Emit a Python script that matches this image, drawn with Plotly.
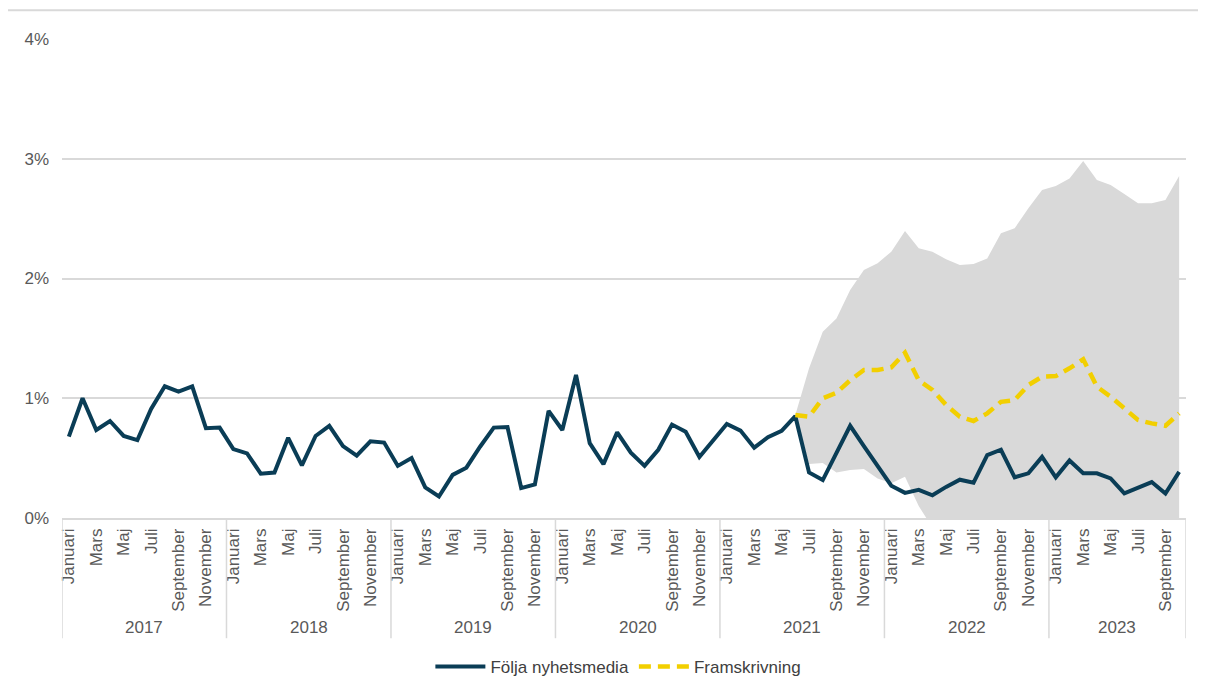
import plotly.graph_objects as go

# --- data ---
years = [2017, 2018, 2019, 2020, 2021, 2022, 2023]
month_names = ["Januari", "Februari", "Mars", "April", "Maj", "Juni", "Juli",
               "Augusti", "September", "Oktober", "November", "December"]

# Följa nyhetsmedia, Jan 2017 - Okt 2023 (percent)
news = [0.68, 1.00, 0.735, 0.81, 0.685, 0.65, 0.91, 1.10, 1.055, 1.10, 0.75, 0.755,
        0.575, 0.54, 0.37, 0.38, 0.67, 0.44, 0.685, 0.77, 0.60, 0.52, 0.64, 0.63,
        0.435, 0.50, 0.255, 0.18, 0.36, 0.42, 0.595, 0.755, 0.76, 0.25, 0.28, 0.895,
        0.735, 1.195, 0.625, 0.45, 0.715, 0.545, 0.435, 0.57, 0.78, 0.72, 0.51, 0.65,
        0.785, 0.73, 0.587, 0.675, 0.727, 0.85, 0.38, 0.317, 0.54, 0.77, 0.60, 0.43,
        0.27, 0.21, 0.235, 0.19, 0.26, 0.32, 0.295, 0.525, 0.57, 0.34, 0.373, 0.51,
        0.34, 0.48, 0.373, 0.373, 0.33, 0.205, 0.25, 0.30, 0.205, 0.385]

# Framskrivning, Jun 2021 - Okt 2023
forecast_start = 53
forecast = [0.86, 0.846, 1.00, 1.046, 1.15, 1.236, 1.236, 1.258, 1.38, 1.15,
            1.07, 0.944, 0.846, 0.81, 0.874, 0.97, 0.985, 1.11, 1.18, 1.185,
            1.25, 1.325, 1.096, 1.013, 0.916, 0.818, 0.79, 0.77, 0.874]
band_upper = [0.86, 1.25, 1.556, 1.667, 1.904, 2.07, 2.127, 2.224, 2.397, 2.252,
              2.224, 2.16, 2.113, 2.121, 2.168, 2.377, 2.419, 2.586, 2.739, 2.772,
              2.836, 2.981, 2.822, 2.78, 2.706, 2.628, 2.628, 2.655, 2.856]
band_lower = [0.86, 0.45, 0.46, 0.38, 0.40, 0.41, 0.33, 0.29, 0.345, 0.10,
              -0.08, -0.27, -0.42, -0.50, -0.42, -0.44, -0.45, -0.37, -0.38, -0.40,
              -0.34, -0.33, -0.63, -0.75, -0.87, -0.99, -1.05, -1.10, -1.10]

categories = [f"{m} {y}" for y in years for m in month_names][:len(news)]
fc_cats = categories[forecast_start:forecast_start + len(forecast)]

navy = "#0a3d56"
yellow = "#f2cf00"
grey_txt = "#595959"
grid = "#d9d9d9"
font_family = "Liberation Sans, Arial, sans-serif"

fig = go.Figure()

# uncertainty band
fig.add_trace(go.Scatter(x=fc_cats, y=band_lower, mode="lines", line=dict(width=0),
                         showlegend=False, hoverinfo="skip"))
fig.add_trace(go.Scatter(x=fc_cats, y=band_upper, mode="lines", line=dict(width=0),
                         fill="tonexty", fillcolor="#d9d9d9",
                         showlegend=False, hoverinfo="skip"))

fig.add_trace(go.Scatter(x=categories, y=news, mode="lines", name="Följa nyhetsmedia",
                         line=dict(color=navy, width=4)))
fig.add_trace(go.Scatter(x=fc_cats, y=forecast, mode="lines", name="Framskrivning",
                         line=dict(color=yellow, width=4.5, dash="12px,7px")))

# month ticks: every other month
tick_vals = categories[::2]
tick_text = [c.split(" ")[0] for c in tick_vals]

# year separators and labels under the month labels
shapes = []
annotations = []
n = len(categories)
for k, y in enumerate(years):
    start = k * 12 - 0.5
    end = min((k + 1) * 12, n) - 0.5
    shapes.append(dict(type="line", xref="x", yref="paper", x0=start, x1=start,
                       y0=0, y1=-0.251, line=dict(color=grid, width=1.5)))
    annotations.append(dict(x=(start + end) / 2, y=-0.228, xref="x", yref="paper",
                            text=str(y), showarrow=False, yanchor="middle",
                            font=dict(size=17, color=grey_txt)))
shapes.append(dict(type="line", xref="x", yref="paper", x0=n - 0.5, x1=n - 0.5,
                   y0=0, y1=-0.251, line=dict(color=grid, width=1.5)))

# outer chart frame
shapes.append(dict(type="rect", xref="paper", yref="paper", x0=-0.049, x1=1.04,
                   y0=-0.4, y1=1.06, line=dict(color=grid, width=2), layer="below"))

# page body adds an 8px offset, margins compensate
fig.update_layout(
    width=1206, height=695,
    margin=dict(l=54, r=28, t=31, b=185),
    paper_bgcolor="white", plot_bgcolor="white",
    font=dict(family=font_family, color=grey_txt, size=16),
    shapes=shapes,
    annotations=annotations,
    legend=dict(orientation="h", x=0.495, xanchor="center", y=-0.311, yanchor="middle",
                font=dict(size=17, color="#404040"), itemwidth=50, traceorder="normal"),
)
fig.update_xaxes(type="category", categoryorder="array", categoryarray=categories,
                 range=[-0.5, n - 0.5], tickmode="array", tickvals=tick_vals,
                 ticktext=tick_text, tickangle=-90, showgrid=False, showline=True,
                 linecolor=grid, linewidth=1.5, ticks="", ticklabelstandoff=2,
                 tickfont=dict(size=17, color=grey_txt))
fig.update_yaxes(range=[0, 4], dtick=1, ticksuffix="%", showgrid=True, gridcolor=grid,
                 gridwidth=1.5, zeroline=False, showline=False, ticks="",
                 ticklabelstandoff=12, tickfont=dict(size=17, color=grey_txt))

fig.write_html("out.html")
